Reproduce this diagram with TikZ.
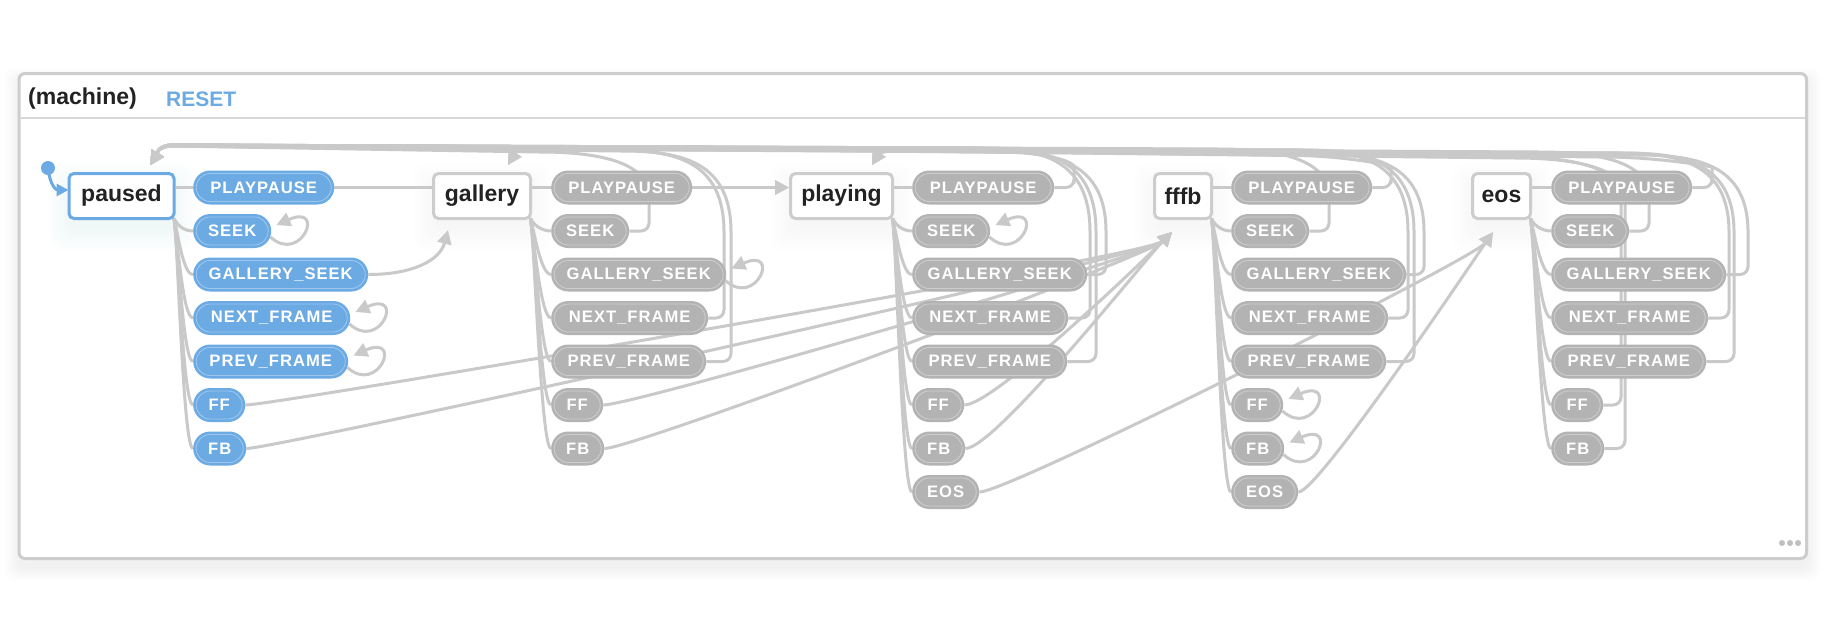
\documentclass[tikz,border=0pt]{standalone}
\usepackage{fontspec}
\setmainfont{Liberation Sans}
\newfontfamily\pillfam[LetterSpace=6]{Liberation Sans}
\usetikzlibrary{arrows.meta,calc}
\definecolor{pblue}{HTML}{6CAAE4}
\definecolor{pgray}{HTML}{B3B3B3}
\definecolor{egray}{HTML}{C9C9C9}
\definecolor{bgray}{HTML}{CDCDCD}
\definecolor{ink}{HTML}{222222}
\pgfdeclarelayer{frame}
\pgfdeclarelayer{bg}
\pgfsetlayers{frame,bg,main}
\tikzset{
  edge/.style={draw=egray, line width=3pt, line join=round},
  arr/.style={-{Triangle[length=14pt,width=14pt]}},
  state/.style={draw=bgray, line width=3pt, fill=white, rounded corners=5pt,
    minimum height=45pt, inner sep=0pt, font=\fontsize{23}{23}\selectfont\bfseries, text=ink},
  pill/.style={anchor=west, rounded corners=17pt, minimum height=34pt, inner sep=0pt,
    text=white, font=\pillfam\fontsize{16.6}{16.6}\selectfont\bfseries,
    path picture={\draw[white, opacity=.35, line width=.8pt, rounded corners=14pt]
      ($(path picture bounding box.south west)+(3pt,3pt)$) rectangle
      ($(path picture bounding box.north east)+(-3pt,-3pt)$);}},
  bpill/.style={pill, fill=pblue},
  gpill/.style={pill, fill=pgray},
}
% back edge: src, riser x, riser top y, band y right, band y left, target coord, target x
\newcommand\backedge[7]{%
  \draw[edge,arr,rounded corners=8pt] (#1.east) -| (#2,-#3) [sharp corners]
  .. controls (#2,{-#4-10}) and ({#2-50},-#4) .. ({#2-110},-#4)
  -- ({#7+24},-#5) .. controls ({#7+8},-#5) and ($(#6)+(6,10)$) .. (#6);}
\newcommand\selfloop[1]{%
  \draw[edge,arr] ($(#1.east)+(-1,-6)$) .. controls +(31,-28) and +(50,22) .. ($(#1.east)+(5,6)$);}
\newcommand\fan[3]{%
  \draw[edge] ($(#1.south east)+(-1.5,1.5)$) .. controls +(#3) and +(-10,0) .. (#2.west);}
\newcommand\ppfan[2]{\draw[edge] (#2.west -| #1.east) -- (#2.west);}
\begin{document}
\begin{tikzpicture}[x=1pt,y=1pt]
\useasboundingbox (0,0) rectangle (1830,-640);

% ---------- states ----------
\node[state, draw=pblue, minimum width=105pt] (paused) at (121.5,-196) {paused};
\node[state, minimum width=97pt] (gallery) at (482,-196) {gallery};
\node[state, minimum width=102pt] (playing) at (841.5,-196) {playing};
\node[state, minimum width=57pt] (fffb) at (1183,-196) {fffb};
\node[state, minimum width=58pt] (eos) at (1501.5,-196) {eos};

% ---------- paused events ----------
\node[bpill, minimum width=141pt] (p-pp) at (193,-187.5) {PLAYPAUSE};
\node[bpill, minimum width=78pt] (p-seek) at (193,-231) {SEEK};
\node[bpill, minimum width=175pt] (p-gs) at (193,-274.5) {GALLERY\_SEEK};
\node[bpill, minimum width=157pt] (p-next) at (193,-318) {NEXT\_FRAME};
\node[bpill, minimum width=155pt] (p-prev) at (193,-361.5) {PREV\_FRAME};
\node[bpill, minimum width=52pt] (p-ff) at (193,-405) {FF};
\node[bpill, minimum width=53pt] (p-fb) at (193,-448.5) {FB};
% ---------- gallery events ----------
\node[gpill, minimum width=141pt] (g-pp) at (551,-187.5) {PLAYPAUSE};
\node[gpill, minimum width=78pt] (g-seek) at (551,-231) {SEEK};
\node[gpill, minimum width=175pt] (g-gs) at (551,-274.5) {GALLERY\_SEEK};
\node[gpill, minimum width=157pt] (g-next) at (551,-318) {NEXT\_FRAME};
\node[gpill, minimum width=155pt] (g-prev) at (551,-361.5) {PREV\_FRAME};
\node[gpill, minimum width=52pt] (g-ff) at (551,-405) {FF};
\node[gpill, minimum width=53pt] (g-fb) at (551,-448.5) {FB};
% ---------- playing events ----------
\node[gpill, minimum width=142pt] (y-pp) at (912,-187.5) {PLAYPAUSE};
\node[gpill, minimum width=78pt] (y-seek) at (912,-231) {SEEK};
\node[gpill, minimum width=175pt] (y-gs) at (912,-274.5) {GALLERY\_SEEK};
\node[gpill, minimum width=156pt] (y-next) at (912,-318) {NEXT\_FRAME};
\node[gpill, minimum width=155pt] (y-prev) at (912,-361.5) {PREV\_FRAME};
\node[gpill, minimum width=52pt] (y-ff) at (912,-405) {FF};
\node[gpill, minimum width=53pt] (y-fb) at (912,-448.5) {FB};
\node[gpill, minimum width=67pt] (y-eos) at (912,-492) {EOS};
% ---------- fffb events ----------
\node[gpill, minimum width=141pt] (f-pp) at (1231,-187.5) {PLAYPAUSE};
\node[gpill, minimum width=78pt] (f-seek) at (1231,-231) {SEEK};
\node[gpill, minimum width=175pt] (f-gs) at (1231,-274.5) {GALLERY\_SEEK};
\node[gpill, minimum width=157pt] (f-next) at (1231,-318) {NEXT\_FRAME};
\node[gpill, minimum width=155pt] (f-prev) at (1231,-361.5) {PREV\_FRAME};
\node[gpill, minimum width=52pt] (f-ff) at (1231,-405) {FF};
\node[gpill, minimum width=53pt] (f-fb) at (1231,-448.5) {FB};
\node[gpill, minimum width=67pt] (f-eos) at (1231,-492) {EOS};
% ---------- eos events ----------
\node[gpill, minimum width=141pt] (e-pp) at (1551,-187.5) {PLAYPAUSE};
\node[gpill, minimum width=78pt] (e-seek) at (1551,-231) {SEEK};
\node[gpill, minimum width=175pt] (e-gs) at (1551,-274.5) {GALLERY\_SEEK};
\node[gpill, minimum width=157pt] (e-next) at (1551,-318) {NEXT\_FRAME};
\node[gpill, minimum width=155pt] (e-prev) at (1551,-361.5) {PREV\_FRAME};
\node[gpill, minimum width=52pt] (e-ff) at (1551,-405) {FF};
\node[gpill, minimum width=53pt] (e-fb) at (1551,-448.5) {FB};

% ---------- header ----------
\node[anchor=west, inner sep=0pt, font=\fontsize{23}{23}\selectfont\bfseries, text=ink] (title) at (28,-99) {(machine)};
\node[anchor=west, inner sep=0pt, font=\fontsize{21}{21}\selectfont\bfseries, text=pblue] (reset) at (166,-99) {RESET};

% ---------- initial ----------
\node[circle, fill=pblue, minimum size=14pt, inner sep=0pt] (init) at (48,-168) {};
\draw[draw=pblue, line width=3pt, -{Triangle[length=12pt,width=12pt]}] (init.center) .. controls +(2,-18) and +(-12,0) .. ($(paused.west)+(1,6)$);

% target tips
\coordinate (tP) at ($(paused.north east)+(-25,7)$);
\coordinate (tG) at ($(gallery.north east)+(-24,7)$);
\coordinate (tY) at ($(playing.north east)+(-22,7)$);
\coordinate (tGb) at ($(gallery.south west)+(16,-10)$);
\coordinate (tFb) at ($(fffb.south west)+(19,-12)$);
\coordinate (tEb) at ($(eos.south west)+(22,-12)$);

% ---------- frame & shadows ----------
\begin{pgfonlayer}{frame}
  \fill[white] (0,0) rectangle (1830,-640);
  \foreach \r in {1,...,14}
    \fill[black, opacity=0.0045, rounded corners=8pt] ({19-\r},{-81.5+\r}) rectangle ({1806.5+\r},{-566.5-\r});
  \draw[draw=bgray, line width=3pt, fill=white, rounded corners=6pt] (19,-73.5) rectangle (1806.5,-558.5);
  \draw[draw=bgray!80, line width=2pt] (20.5,-118) -- (1805,-118);
  \foreach \r in {2,5,...,23}
    \fill[pblue, opacity=0.009, rounded corners=12pt] ($(paused.south west)+(-\r+4,-\r-8)$) rectangle ($(paused.north east)+(\r-4,\r-14)$);
  \foreach \b in {gallery,playing,fffb,eos}
    \foreach \r in {2,5,...,23}
      \fill[black, opacity=0.004, rounded corners=12pt] ($(\b.south west)+(-\r+4,-\r-8)$) rectangle ($(\b.north east)+(\r-4,\r-14)$);
  \foreach \x in {1782,1790,1798}
    \fill[black!25] (\x,-543) circle (3pt);
\end{pgfonlayer}

% ---------- edges ----------
\begin{pgfonlayer}{bg}
  % state -> event fans
  \ppfan{paused}{p-pp}
  \fan{paused}{p-seek}{3,-6}
  \fan{paused}{p-gs}{4,-15}
  \foreach \e in {p-next,p-prev,p-ff,p-fb} {\fan{paused}{\e}{4,-25}}
  \ppfan{gallery}{g-pp}
  \fan{gallery}{g-seek}{3,-6}
  \fan{gallery}{g-gs}{4,-15}
  \foreach \e in {g-next,g-prev,g-ff,g-fb} {\fan{gallery}{\e}{4,-25}}
  \ppfan{playing}{y-pp}
  \fan{playing}{y-seek}{3,-6}
  \fan{playing}{y-gs}{4,-15}
  \foreach \e in {y-next,y-prev,y-ff,y-fb,y-eos} {\fan{playing}{\e}{4,-25}}
  \ppfan{fffb}{f-pp}
  \fan{fffb}{f-seek}{3,-6}
  \fan{fffb}{f-gs}{4,-15}
  \foreach \e in {f-next,f-prev,f-ff,f-fb,f-eos} {\fan{fffb}{\e}{4,-25}}
  \ppfan{eos}{e-pp}
  \fan{eos}{e-seek}{3,-6}
  \fan{eos}{e-gs}{4,-15}
  \foreach \e in {e-next,e-prev,e-ff,e-fb} {\fan{eos}{\e}{4,-25}}

  % forward transitions
  \draw[edge,arr] (p-pp.east) -- (p-pp.east -| playing.west);
  \draw[edge,arr] (g-pp.east) -- (g-pp.east -| playing.west);
  \draw[edge,arr] (p-gs.east) .. controls +(45,0) and +(-8,-30) .. (tGb);
  \foreach \s in {p-ff,p-fb,g-ff,g-fb,y-ff,y-fb}
    {\draw[edge,arr] (\s.east) .. controls +(30,0) and +(-24,-24) .. (tFb);}
  \draw[edge,arr] (y-eos.east) .. controls +(30,0) and +(-18,-26) .. (tEb);
  \draw[edge,arr] (f-eos.east) .. controls +(20,0) and +(-18,-26) .. (tEb);

  % self loops
  \foreach \s in {p-seek,p-next,p-prev,g-gs,y-seek,f-ff,f-fb} {\selfloop{\s}}

  % back transitions over the top
  \backedge{g-seek}{649}{205}{152}{146}{tP}{149}
  \backedge{g-next}{724}{240}{150}{146}{tP}{149}
  \backedge{g-prev}{731}{240}{151}{146}{tP}{149}
  \backedge{y-pp}{1074}{175}{149}{145}{tP}{149}
  \backedge{y-next}{1090}{240}{148}{145}{tP}{149}
  \backedge{y-prev}{1096}{240}{148}{145}{tP}{149}
  \backedge{f-seek}{1329}{205}{149}{145}{tP}{149}
  \backedge{f-next}{1408}{240}{150}{145}{tP}{149}
  \backedge{f-prev}{1414}{240}{150}{145}{tP}{149}
  \backedge{e-seek}{1649}{205}{152}{145}{tP}{149}
  \backedge{e-next}{1729}{240}{153}{145}{tP}{149}
  \backedge{e-prev}{1734}{240}{153}{145}{tP}{149}
  \backedge{y-gs}{1106}{240}{152}{149}{tG}{506.5}
  \backedge{f-gs}{1424}{240}{153}{149}{tG}{506.5}
  \backedge{e-gs}{1748}{240}{155}{149}{tG}{506.5}
  \backedge{f-pp}{1391}{175}{155}{150}{tY}{870.5}
  \backedge{e-pp}{1712}{175}{157}{150}{tY}{870.5}
  \backedge{e-ff}{1621}{205}{157}{151}{tY}{870.5}
  \backedge{e-fb}{1625}{205}{158}{151}{tY}{870.5}
\end{pgfonlayer}
\end{tikzpicture}
\end{document}
